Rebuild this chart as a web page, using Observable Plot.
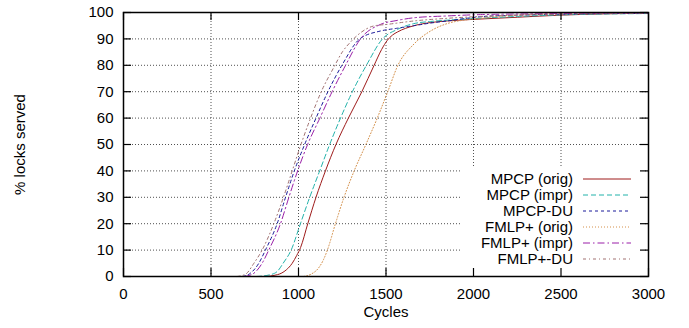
<!DOCTYPE html>
<html>
<head>
<meta charset="utf-8">
<script src="https://cdn.jsdelivr.net/npm/d3@7"></script>
<script src="https://cdn.jsdelivr.net/npm/@observablehq/plot@0.6"></script>
<style>
  html, body { margin: 0; padding: 0; background: #fff; }
  #chart { position: relative; width: 689px; height: 328px; }
</style>
</head>
<body>
<div id="chart"></div>
<script>
// ---- data (cycles, % locks served) ----
const seriesNames = ["MPCP (orig)", "MPCP (impr)", "MPCP-DU", "FMLP+ (orig)", "FMLP+ (impr)", "FMLP+-DU"];
const xTicks = [0, 500, 1000, 1500, 2000, 2500, 3000];
const yTicks = [0, 10, 20, 30, 40, 50, 60, 70, 80, 90, 100];

const mpcpOrig = [[800,0],[880,0.7],[930,2.5],[964,5],[990,8],[1012,11],[1053,20],[1100,30],[1154,40],[1214,50],[1285,60],[1362,70],[1432,80],[1475,86],[1508,89.5],[1538,91.5],[1565,92.6],[1660,95],[1755,96.2],[1850,96.8],[2000,97.4],[2250,98.2],[2500,99],[2750,99.5],[3000,99.7]];
const mpcpImpr = [[760,0],[840,0.7],[880,2],[912,5],[958,10],[1011,20],[1064,30],[1121,40],[1178,50],[1240,60],[1308,70],[1388,80],[1480,90],[1565,93.6],[1660,95.8],[1755,96.6],[1850,97.1],[2000,97.7],[2250,98.5],[2500,99.1],[3000,99.6]];
const mpcpDU = [[680,0],[720,1],[773,5],[811,10],[878,20],[926,30],[976,40],[1035,50],[1100,60],[1168,70],[1248,80],[1350,90],[1469,93],[1560,94],[1659,95],[1755,96],[1850,96.8],[2040,98.4],[2250,99],[2500,99.4],[3000,99.7]];
const fmlpOrig = [[1030,0],[1075,1],[1112,3],[1140,6],[1165,10],[1211,20],[1260,30],[1318,40],[1385,50],[1450,60],[1510,70],[1568,80],[1659,88],[1755,93],[1850,95.8],[2040,97.8],[2326,99.3],[2600,99.8],[3000,100]];
const fmlpImpr = [[690,0],[740,1],[792,5],[830,10],[897,20],[945,30],[995,40],[1052,50],[1122,60],[1192,70],[1269,80],[1354,90],[1469,95.5],[1564,97],[1659,98],[1850,98.7],[2040,99.2],[2500,99.6],[3000,99.8]];
const fmlpDU = [[650,0],[700,1],[745,5],[792,10],[859,20],[914,30],[964,40],[1014,50],[1069,60],[1130,70],[1200,79],[1250,85],[1300,89],[1354,92.3],[1430,94.9],[1507,95.5],[1660,96.8],[1850,97.8],[2040,98.5],[2500,99.3],[3000,99.7]];

const seriesData = [mpcpOrig, mpcpImpr, mpcpDU, fmlpOrig, fmlpImpr, fmlpDU];
const seriesColors = ["#9e1b1b", "#22b2aa", "#1a1a9a", "#d4904a", "#9a1fa8", "#a07070"];
const seriesDash = [null, "5,3", "3,3", "1,2", "7,3,1.5,3", "3,3,1,3"];

const FONT = "'Liberation Sans', Arial, Helvetica, sans-serif";
const FS = 15;
const W = 689, H = 328, ML = 123, MR = 41, MT = 12, MB = 52;
const IW = W - ML - MR, IH = H - MT - MB;
const TL = 8;

const lineMarks = seriesData.map((s, i) => Plot.line(s.map(([x, y]) => ({x, y})), {
  x: "x", y: "y", stroke: seriesColors[i], strokeWidth: 1,
  strokeDasharray: seriesDash[i] || undefined, curve: "monotone-x"
}));

const plot = Plot.plot({
  width: W, height: H,
  marginLeft: ML, marginRight: MR, marginTop: MT, marginBottom: MB,
  x: {domain: [0, 3000]},
  y: {domain: [0, 100]},
  style: {fontFamily: FONT, fontSize: FS + "px", color: "#000", background: "#fff"},
  marks: [
    Plot.gridX(xTicks, {stroke: "#333", strokeOpacity: 0.85, strokeDasharray: "1,2"}),
    Plot.gridY(yTicks, {stroke: "#333", strokeOpacity: 0.85, strokeDasharray: "1,2"}),
    ...lineMarks,
    Plot.tickX(xTicks, {x: d => d, insetTop: IH - TL, stroke: "#000", strokeWidth: 1.2}),
    Plot.tickX(xTicks, {x: d => d, insetBottom: IH - TL, stroke: "#000", strokeWidth: 1.2}),
    Plot.tickY(yTicks, {y: d => d, insetRight: IW - TL, stroke: "#000", strokeWidth: 1.2}),
    Plot.tickY(yTicks, {y: d => d, insetLeft: IW - TL, stroke: "#000", strokeWidth: 1.2}),
    Plot.frame({stroke: "#000", strokeWidth: 1.5}),
    Plot.axisX(xTicks, {tickSize: 0, tickPadding: 12, label: null, fontSize: FS, tickFormat: d => String(d)}),
    Plot.axisY(yTicks, {tickSize: 0, tickPadding: 10, label: null, fontSize: FS, tickFormat: d => String(d)}),
    Plot.text(["Cycles"], {text: d => d, frameAnchor: "bottom", dy: 36, lineAnchor: "middle", textAnchor: "middle", fontSize: FS}),
    Plot.text(["% locks served"], {text: d => d, frameAnchor: "left", dx: -103, rotate: -90, lineAnchor: "middle", textAnchor: "middle", fontSize: FS})
  ]
});

document.getElementById("chart").appendChild(plot);

// ---- legend (opaque key box, bottom-right inside the frame) ----
const gridY = plot.querySelector('[aria-label="y-grid"]');
const leg = document.createElementNS("http://www.w3.org/2000/svg", "g");
if (gridY && gridY.nextSibling) plot.insertBefore(leg, gridY.nextSibling); else plot.appendChild(leg);
const g = d3.select(leg);
g.append("rect").attr("x", 462).attr("y", 166).attr("width", 183).attr("height", IH + MT - 166 - 1).attr("fill", "#fff");
seriesNames.forEach((name, i) => {
  const cy = 179 + i * 16;
  g.append("text").attr("x", 573).attr("y", cy).attr("dy", "0.35em").attr("text-anchor", "end")
    .attr("font-family", FONT).attr("font-size", FS).attr("fill", "#000").text(name);
  const ln = g.append("line").attr("x1", 583).attr("x2", 631).attr("y1", cy).attr("y2", cy)
    .attr("stroke", seriesColors[i]).attr("stroke-width", 1);
  if (seriesDash[i]) ln.attr("stroke-dasharray", seriesDash[i]);
});
</script>
</body>
</html>
